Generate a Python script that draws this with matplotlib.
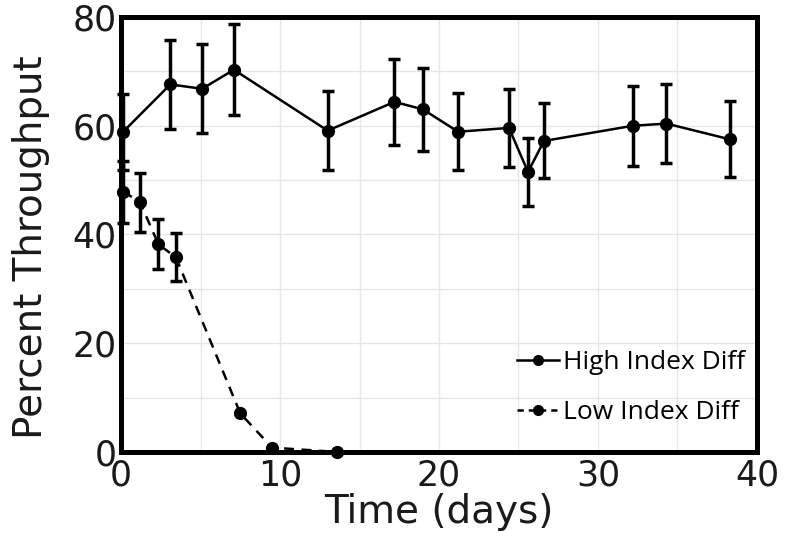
# -*- coding: utf-8 -*-
"""
Percent throughput vs time for high / low index difference samples.
"""

import matplotlib
matplotlib.use('Agg')
import matplotlib.pyplot as plt
import numpy as np
from matplotlib.lines import Line2D

#-----------------------------------------------------------------------------------------------------------------------
# Data
high_days = [0.1, 3.1, 5.1, 7.1, 13.0, 17.2, 19.0, 21.2, 24.4, 25.6, 26.6, 32.2, 34.3, 38.3]
high_pct  = [58.8, 67.6, 66.8, 70.3, 59.1, 64.4, 63.0, 58.9, 59.6, 51.5, 57.2, 60.0, 60.4, 57.5]
high_err  = [7.0, 8.2, 8.2, 8.4, 7.2, 7.9, 7.6, 7.1, 7.2, 6.2, 6.9, 7.4, 7.3, 7.0]

low_days = [0.15, 1.2, 2.35, 3.45, 7.5, 9.5, 13.6]
low_pct  = [47.9, 45.9, 38.2, 35.8, 7.1, 0.8, 0.0]
low_err  = [5.7, 5.5, 4.6, 4.4, 0.0, 0.0, 0.0]

xticks = [0, 10, 20, 30, 40]
yticks = [0, 20, 40, 60, 80]

#-----------------------------------------------------------------------------------------------------------------------
fontsize = 25
labelsize = 28
dash = (0, (4, 3))

fig = plt.figure(figsize=(7.88, 5.40), dpi=100)
ax = fig.add_axes([0.1536, 0.163, 0.807, 0.8055])

ax.errorbar(high_days, high_pct, yerr=high_err, color='black', linestyle='-', linewidth=1.8,
            marker='o', markersize=8.5, elinewidth=2.5, capsize=4.5, capthick=2.5,
            clip_on=False, zorder=3)

low_yerr = np.where(np.array(low_err) > 0, low_err, np.nan)
ax.errorbar(low_days, low_pct, yerr=low_yerr, color='black', linestyle=dash, linewidth=1.8,
            marker='o', markersize=8.5, elinewidth=2.5, capsize=4.5, capthick=2.5,
            clip_on=False, zorder=3)

ax.set_xlim(0, 40)
ax.set_ylim(0, 80)
ax.set_xticks(xticks)
ax.set_yticks(yticks)
ax.set_xticks(np.arange(0, 41, 5), minor=True)
ax.set_yticks(np.arange(0, 81, 10), minor=True)
ax.tick_params(which='both', length=0, labelsize=fontsize, colors='#1a1a1a')
ax.tick_params(axis='x', pad=5)
ax.tick_params(axis='y', pad=3)

ax.grid(which='both', color='#e6e6e6', linewidth=1.0)
ax.set_axisbelow(True)

for s in ax.spines.values():
    s.set_linewidth(3.6)
    s.set_color('black')

ax.set_xlabel('Time (days)', fontsize=labelsize, labelpad=0, color='#1a1a1a')
ax.set_ylabel('Percent Throughput', fontsize=labelsize, color='#1a1a1a')
ax.yaxis.set_label_coords(-0.112, 0.47)

# Legend: plain line + marker handles, no error bars
handles = [Line2D([], [], color='black', linestyle='-', linewidth=1.8, marker='o', markersize=7),
           Line2D([], [], color='black', linestyle=(0, (2.5, 2)), linewidth=1.8, marker='o', markersize=7)]
labels = ['High Index Diff', 'Low Index Diff']
ax.legend(handles, labels, loc='lower right', frameon=False,
          prop={'family': 'Open Sans', 'size': 19}, handlelength=1.6,
          handletextpad=0.15, labelspacing=0.95, borderaxespad=0.3,
          bbox_to_anchor=(1.01, 0.02))

plt.savefig('out.png', dpi=100)
plt.close()
